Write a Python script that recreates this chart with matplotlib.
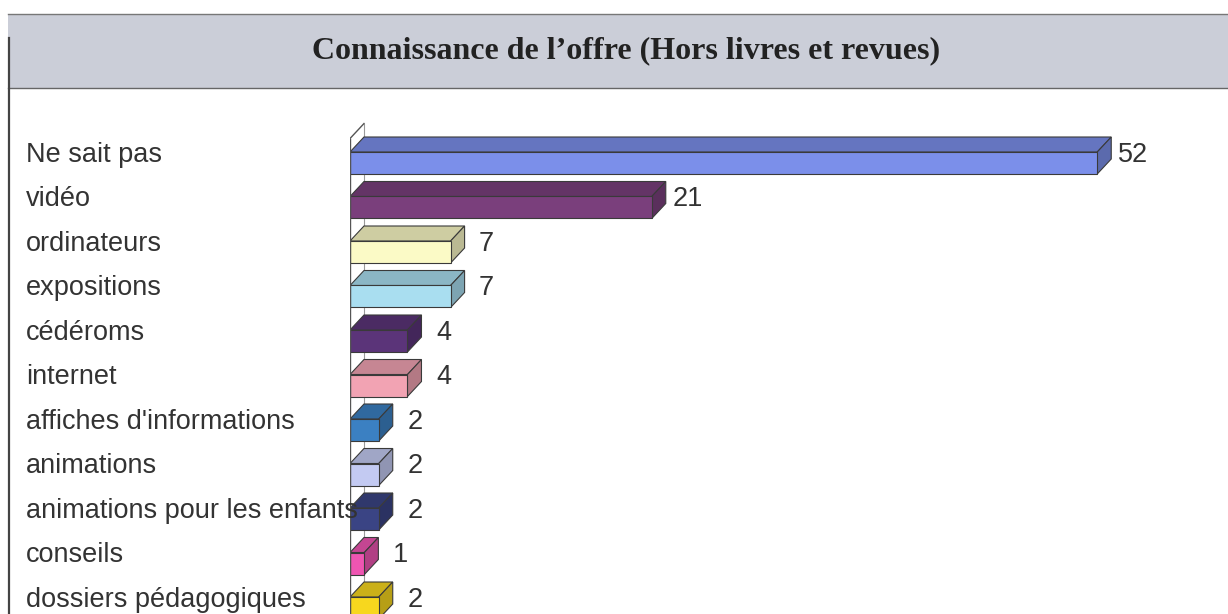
import numpy as np
import matplotlib.pyplot as plt
from matplotlib.patches import Polygon, Rectangle
from matplotlib.transforms import blended_transform_factory
from matplotlib.lines import Line2D

categories = ["Ne sait pas", "vidéo", "ordinateurs", "expositions", "cédéroms",
              "internet", "affiches d'informations", "animations",
              "animations pour les enfants", "conseils", "dossiers pédagogiques"]
values = [52, 21, 7, 7, 4, 4, 2, 2, 2, 1, 2]
colors = ["#7b8fea", "#7a3f7c", "#fbfac6", "#a9def0", "#5b3479", "#f2a3b3",
          "#3b80c2", "#c3caf2", "#3a4484", "#ef55b2", "#f7d71e"]
title = "Connaissance de l\u2019offre (Hors livres et revues)"

W, H = 1228, 614
fig = plt.figure(figsize=(W / 100, H / 100), dpi=100)
fig.patch.set_facecolor("white")

# pixel geometry of the plot area
x0_px = 350
px_per_unit = 14.37
row_px = 44.5
first_row_px = 163
top_px = 90
ax = fig.add_axes([x0_px / W, 0, 1 - x0_px / W, 1 - top_px / H])
ax.set_xlim(0, (W - x0_px) / px_per_unit)
ytop = -(first_row_px - top_px) / row_px
ax.set_ylim((H - top_px) / row_px + ytop, ytop)
ax.axis("off")

dx = 14 / px_per_unit
dy = 15 / row_px
h = 22 / row_px


def shade(c, f):
    rgb = np.array(plt.matplotlib.colors.to_rgb(c))
    return tuple(rgb * f)


# back wall
wall_top = -0.55
ax.add_line(Line2D([dx, dx], [wall_top - dy, 12], color="#9a9a9a", lw=0.8, zorder=1))
ax.add_line(Line2D([0, 0], [wall_top, 12], color="#555555", lw=1.0, zorder=5))
ax.add_line(Line2D([0, dx], [wall_top, wall_top - dy], color="#555555", lw=1.0, zorder=5))

edge = "#3a3a3a"
fs = 19.5
lab_off = -0.19
for i, (v, c) in enumerate(zip(values, colors)):
    yt = i - h / 2
    yb = i + h / 2
    top = Polygon([(0, yt), (v, yt), (v + dx, yt - dy), (dx, yt - dy)], closed=True,
                  facecolor=shade(c, 0.82), edgecolor=edge, lw=0.8, zorder=3)
    side = Polygon([(v, yt), (v, yb), (v + dx, yb - dy), (v + dx, yt - dy)], closed=True,
                   facecolor=shade(c, 0.74), edgecolor=edge, lw=0.8, zorder=3)
    front = Rectangle((0, yt), v, h, facecolor=c, edgecolor=edge, lw=0.8, zorder=4)
    ax.add_patch(top)
    ax.add_patch(side)
    ax.add_patch(front)
    ax.text(v + 36 / px_per_unit, i + lab_off, str(v), ha="center", va="center",
            fontsize=fs, color="#333333", family="Liberation Sans", zorder=6)

trans = blended_transform_factory(fig.transFigure, ax.transData)
for i, name in enumerate(categories):
    ax.text(26 / W, i + lab_off, name, transform=trans, ha="left", va="center",
            fontsize=fs, color="#333333", family="Liberation Sans", zorder=7)

# title band
band = Rectangle((8 / W, 1 - 88 / H), 1 - 8 / W, 74 / H, transform=fig.transFigure,
                 facecolor="#cbced8", edgecolor="none", zorder=0)
fig.patches.append(band)
fig.add_artist(Line2D([8 / W, 1], [1 - 14 / H] * 2, transform=fig.transFigure,
                      color="#777777", lw=1.0))
fig.add_artist(Line2D([8 / W, 1], [1 - 88 / H] * 2, transform=fig.transFigure,
                      color="#666666", lw=1.0))
fig.add_artist(Line2D([9 / W] * 2, [0, 1 - 38 / H], transform=fig.transFigure,
                      color="#444444", lw=1.6))
fig.text(626 / W, 1 - 51 / H, title, ha="center", va="center", fontsize=23,
         fontweight="bold", family="Liberation Serif", color="#222222")

fig.savefig("out.png", dpi=100)
